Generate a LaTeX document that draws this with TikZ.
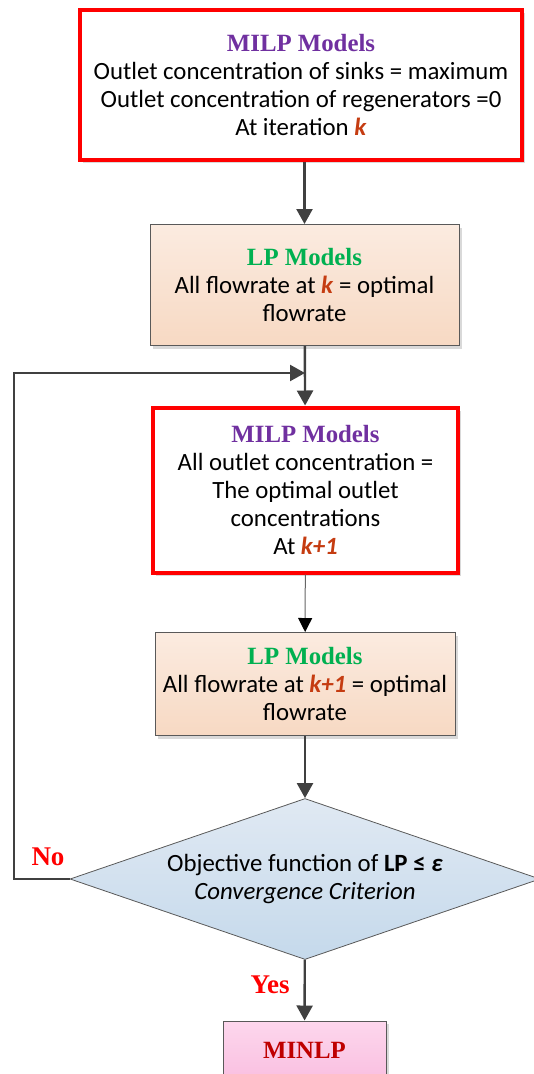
\documentclass[tikz,border=0pt]{standalone}
\usepackage{fontspec}
\setmainfont{Carlito}
\newfontfamily\headfont{Liberation Serif}
\usepackage{xcolor}
\usetikzlibrary{arrows.meta, positioning, shapes.geometric, shadows}

\definecolor{milpcol}{RGB}{112,48,160}
\definecolor{lpcol}{RGB}{0,176,80}
\definecolor{itcol}{RGB}{197,60,17}
\definecolor{flowgray}{RGB}{64,64,64}
\definecolor{peachtop}{RGB}{251,235,224}
\definecolor{peachbot}{RGB}{247,217,195}
\definecolor{bluetop}{RGB}{224,233,243}
\definecolor{bluebot}{RGB}{197,217,235}
\definecolor{pinktop}{RGB}{253,215,237}
\definecolor{pinkbot}{RGB}{249,190,224}

\newcommand{\itk}[1]{\textcolor{itcol}{\textbf{\textit{#1}}}}
\newcommand{\boxhead}[2]{{\headfont\bfseries\textcolor{#1}{#2}}}

\tikzset{
  every node/.style={font=\fontsize{24.8}{28}\selectfont},
  boxshadow/.style={drop shadow={shadow xshift=3pt, shadow yshift=-3pt, opacity=0.25, fill=black!60}},
  milpbox/.style={rectangle, draw=red, line width=4pt, fill=white, align=center, inner sep=0pt, boxshadow},
  lpbox/.style={rectangle, draw=black!65, line width=1pt, top color=peachtop, bottom color=peachbot, align=center, inner sep=0pt, boxshadow},
  flow/.style={draw=flowgray, line width=2.4pt, -{Triangle[length=15pt,width=16pt]}},
  thinflow/.style={draw=black!60, line width=1pt, -{Triangle[length=14pt,width=14pt,color=black]}},
  lbl/.style={text=red, font=\headfont\bfseries\fontsize{27}{30}\selectfont}
}

\begin{document}
\begin{tikzpicture}[x=1pt, y=-1pt]
\useasboundingbox (0,0) rectangle (533,1074);

% First MILP step
\node[milpbox, minimum width=442pt, minimum height=150pt] (milpa) at (301,85)
  {\boxhead{milpcol}{MILP Models}\\
   Outlet concentration of sinks = maximum\\
   Outlet concentration of regenerators =0\\
   At iteration \itk{k}};

% First LP step
\node[lpbox, minimum width=309pt, minimum height=121pt] (lpa) at (304.5,285)
  {\boxhead{lpcol}{LP Models}\\
   All flowrate at \itk{k} = optimal\\
   flowrate};

% Second MILP step
\node[milpbox, minimum width=305pt, minimum height=165pt] (milpb) at (305.5,490)
  {\boxhead{milpcol}{MILP Models}\\
   All outlet concentration =\\
   The optimal outlet\\
   concentrations\\
   At \itk{k+1}};

% Second LP step
\node[lpbox, minimum width=300pt, minimum height=103pt] (lpb) at (305,684)
  {\boxhead{lpcol}{LP Models}\\
   All flowrate at \itk{k+1} = optimal\\
   flowrate};

% Convergence check
\node[diamond, draw=black!65, line width=0.8pt, top color=bluetop, bottom color=bluebot,
      shape aspect=2.94, minimum width=470pt, minimum height=161pt, inner sep=0pt, align=center] (check) at (305,879)
  {Objective function of \textbf{LP ≤ \textit{ε}}\\
   \textit{Convergence Criterion}};

% Final model
\node[rectangle, draw=black!65, line width=1pt, top color=pinktop, bottom color=pinkbot,
      minimum width=163pt, minimum height=62pt, inner sep=0pt, boxshadow] (minlp) at (304.5,1052)
  {\raisebox{4pt}{\headfont\bfseries\textcolor{red!75!black}{MINLP}}};

% Connectors
\coordinate (turn) at (14,373);
\coordinate (merge) at (305,373);
\draw[flow] (milpa.south -| lpa.north) -- (lpa.north);
\draw[flow] (lpa) -- (milpb);
\draw[thinflow] (milpb) -- (lpb);
\draw[flow] (lpb) -- (check);
\draw[flow] (check) -- (minlp);
\draw[flow] (check.west) -| (turn) -- (merge);

% Decision labels
\node[lbl] (nolbl) at (48,857) {No};
\node[lbl] (yeslbl) at (270,985) {Yes};
\end{tikzpicture}
\end{document}
